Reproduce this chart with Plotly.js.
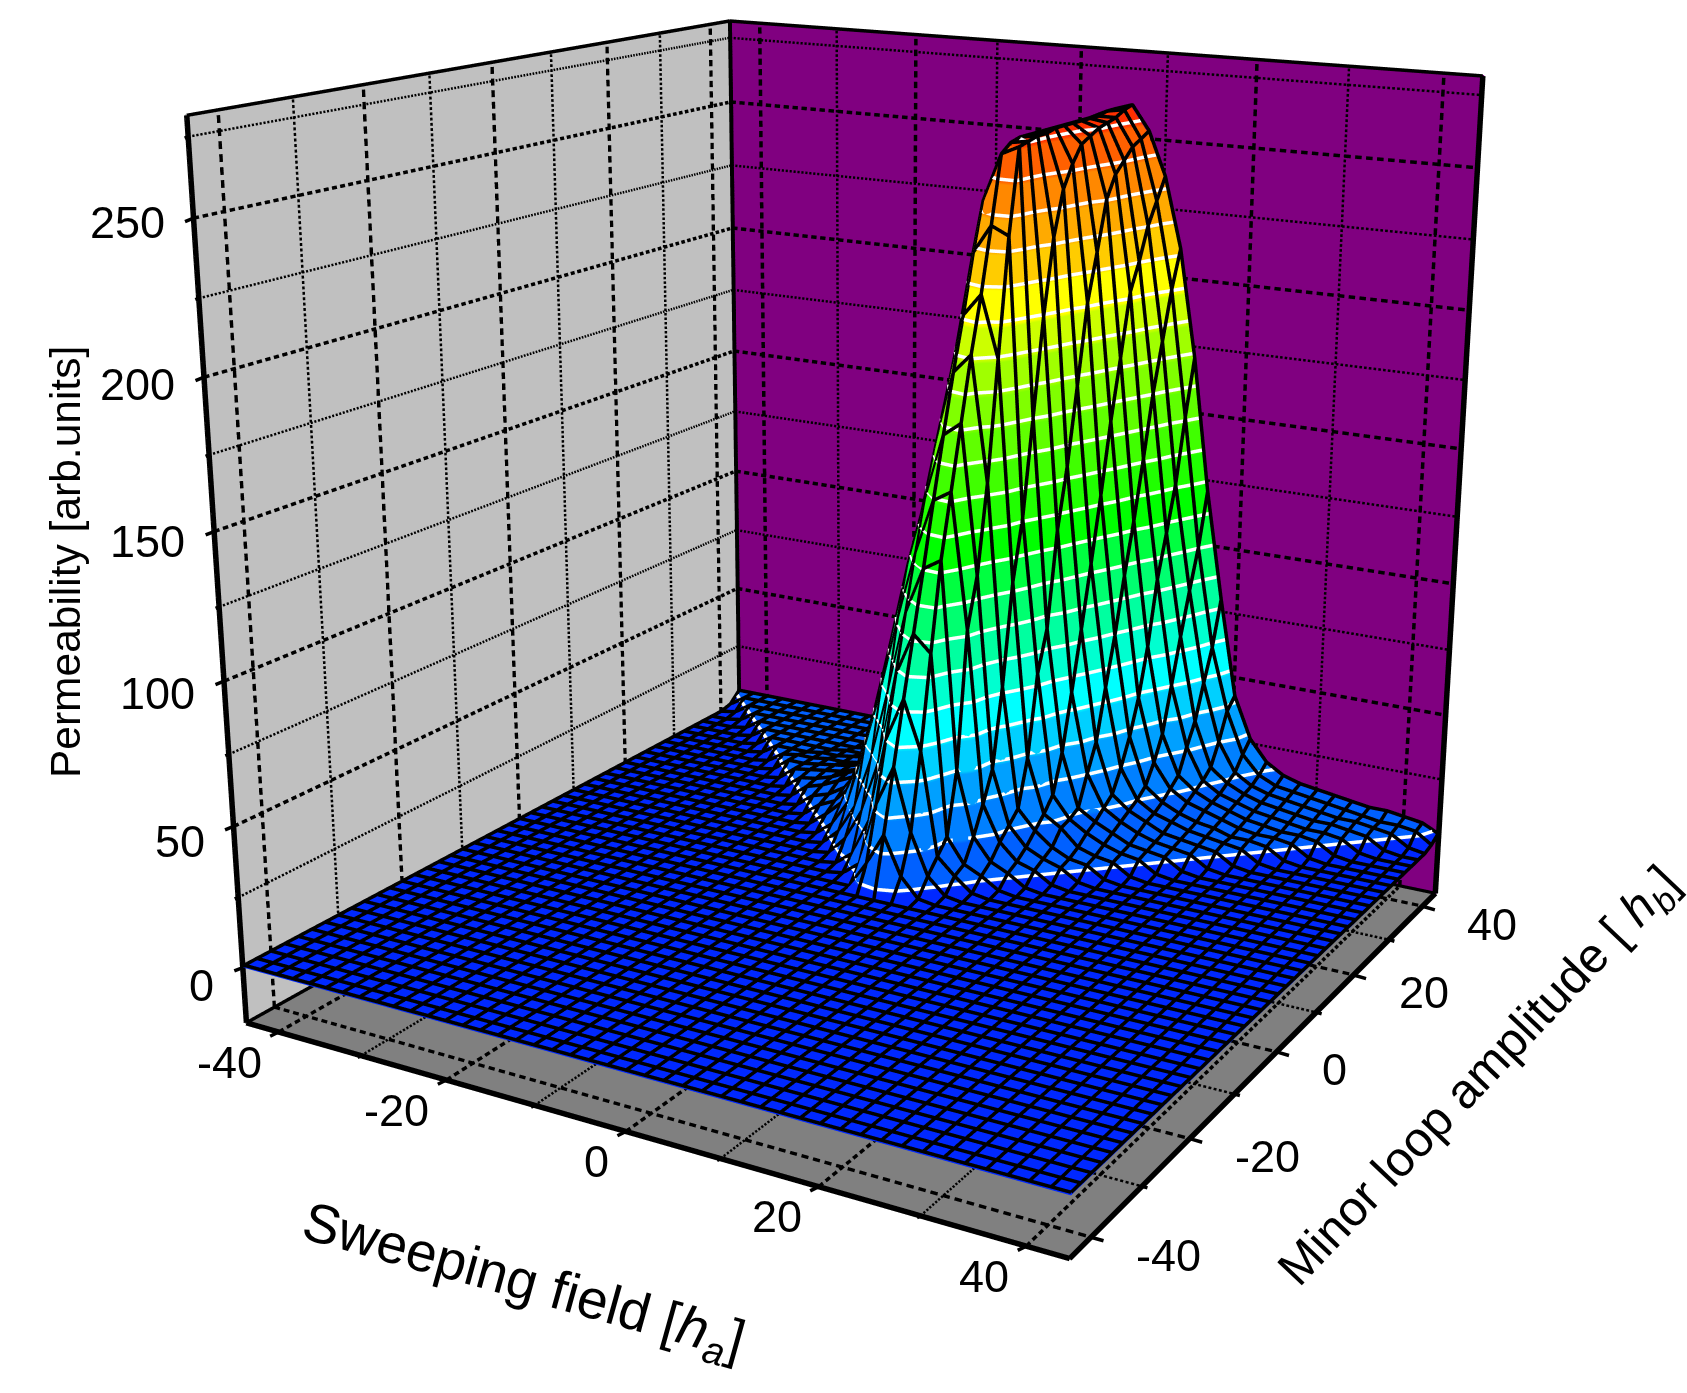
<!DOCTYPE html>
<html>
<head>
<meta charset="utf-8">
<script src="https://cdn.plot.ly/plotly-3.0.1.min.js"></script>
<style>
html, body { margin: 0; padding: 0; width: 1687px; height: 1393px; overflow: hidden; background: #fff; }
#plot { position: absolute; left: -247px; top: -680px; }
</style>
</head>
<body>
<div id="plot"></div>
<script>
// sweeping field axis, minor loop axis
var fieldValues = [-44,-42,-40,-38,-36,-34,-32,-30,-28,-26,-24,-22,-20,-18,-16,-14,-12,-10,-8,-6,-4,-2,0,2,4,6,8,10,12,14,16,18,20,22,24,26,28,30,32,34,36,38,40,42,44];
var loopValues = [-44,-42,-40,-38,-36,-34,-32,-30,-28,-26,-24,-22,-20,-18,-16,-14,-12,-10,-8,-6,-4,-2,0,2,4,6,8,10,12,14,16,18,20,22,24,26,28,30,32,34,36,38,40,42,44];

// permeability, one list per minor loop amplitude
var zFlat = [0,0,0,0,0,0,0,0,0,0,0,0,0,0,0,0,0,0,0,0,0,0, 0, 0,0,0,0,0,0,0,0,0,0,0,0,0,0,0,0,0,0,0,0,0,0];
var z02 = [0,0,0,0,0,0,0,0,0,0,0,0,0,0,0,0,0,0,0,0,0,10, 22, 8,1,0,0,0,0,0,0,0,0,0,0,0,0,0,0,0,0,0,0,0,0];
var z04 = [0,0,0,0,0,0,0,0,0,0,0,0,0,0,0,0,0,0,0,1,6,30, 45, 22,7,1,0,0,0,0,0,0,0,0,0,0,0,0,0,0,0,0,0,0,0];
var z06 = [0,0,0,0,0,0,0,0,0,0,0,0,0,0,0,0,0,0,1,6,20,52, 68, 50,12,6,1,0,0,0,0,0,0,0,0,0,0,0,0,0,0,0,0,0,0];
var z08 = [0,0,0,0,0,0,0,0,0,0,0,0,0,0,0,0,0,1,8,20,40,74, 90, 84,17,8,5,1,0,0,0,0,0,0,0,0,0,0,0,0,0,0,0,0,0];
var z10 = [0,0,0,0,0,0,0,0,0,0,0,0,0,0,0,0,1,7,18,38,65,95, 112, 116,40,16,8,5,1,0,0,0,0,0,0,0,0,0,0,0,0,0,0,0,0];
var z12 = [0,0,0,0,0,0,0,0,0,0,0,0,0,0,0,1,6,16,38,62,90,115, 135, 139,90,26,13,7,5,1,0,0,0,0,0,0,0,0,0,0,0,0,0,0,0];
var z14 = [0,0,0,0,0,0,0,0,0,0,0,0,0,0,1,6,12,28,50,78,108,133, 157, 162,108,37,17,10,7,5,1,0,0,0,0,0,0,0,0,0,0,0,0,0,0];
var z16 = [0,0,0,0,0,0,0,0,0,0,0,0,0,1,6,9,16,32,56,85,118,150, 178, 185,140,66,21,14,9,6,5,1,0,0,0,0,0,0,0,0,0,0,0,0,0];
var z18 = [0,0,0,0,0,0,0,0,0,0,0,0,1,6,8,12,20,34,58,88,125,165, 197, 205,183,103,38,18,14,8,6,5,1,0,0,0,0,0,0,0,0,0,0,0,0];
var z20 = [0,0,0,0,0,0,0,0,0,0,0,1,6,8,11,14,20,34,58,90,130,180, 218, 228,225,125,68,23,15,11,8,6,5,1,0,0,0,0,0,0,0,0,0,0,0];
var z22 = [0,0,0,0,0,0,0,0,0,0,1,6,7,9,12,15,20,33,56,88,132,195, 235, 252,255,160,83,37,17,13,10,7,6,5,1,0,0,0,0,0,0,0,0,0,0];
var z24 = [0,0,0,0,0,0,0,0,0,1,6,7,8,9,11,14,18,30,52,85,130,200, 240, 255,256,195,118,58,28,16,12,9,7,6,5,1,0,0,0,0,0,0,0,0,0];
var z26 = [0,0,0,0,0,0,0,0,1,6,6,7,8,9,11,13,17,28,48,80,125,205, 242, 256,257,222,140,80,38,19,14,11,8,7,6,5,1,0,0,0,0,0,0,0,0];
var z28 = [0,0,0,0,0,0,0,1,5,6,6,7,7,8,10,12,15,26,44,75,120,208, 244, 256,257,238,168,103,57,27,16,12,10,8,7,6,5,1,0,0,0,0,0,0,0];
var z30 = [0,0,0,0,0,0,1,5,5,5,6,6,7,8,9,11,14,24,40,70,115,208, 245, 256,258,246,197,127,75,37,19,14,11,9,8,6,6,5,1,0,0,0,0,0,0];
var z32 = [0,0,0,0,0,1,5,5,5,5,5,6,6,7,8,10,13,22,36,66,110,206, 246, 256,258,252,214,153,96,50,26,17,13,11,9,7,6,6,5,1,0,0,0,0,0];
var z34 = [0,0,0,0,1,5,5,5,5,5,5,5,6,7,8,9,12,20,32,60,105,205, 246, 256,258,254,232,175,115,68,35,20,15,12,10,8,7,6,6,5,1,0,0,0,0];
var z36 = [0,0,0,1,5,5,5,5,5,5,5,5,6,6,7,9,11,18,28,55,100,203, 246, 256,258,256,240,198,137,92,52,29,17,13,11,9,8,7,6,6,5,1,0,0,0];
var z38 = [0,0,1,5,5,5,5,5,5,5,5,5,5,6,7,8,10,16,25,50,95,200, 246, 256,258,257,244,208,160,108,69,37,20,15,12,10,9,8,7,7,6,5,1,0,0];
var z40 = [0,1,5,5,5,5,5,5,5,5,5,5,5,6,6,8,9,15,22,46,90,198, 246, 256,258,258,248,220,178,125,85,50,28,17,13,11,10,9,8,7,7,6,5,1,0];
var z42 = [1,5,5,5,5,5,5,5,5,5,5,5,5,5,6,7,9,14,20,42,85,195, 246, 256,259,260,250,228,196,149,100,62,38,22,15,12,11,10,9,8,7,6,6,5,1];
var z44 = [5,5,5,5,5,5,5,5,5,5,5,5,5,5,6,7,8,12,18,38,80,192, 246, 256,259,261,252,236,210,170,120,79,42,26,18,14,12,11,10,9,8,8,7,6,3];

var zRows = [zFlat,zFlat,zFlat,zFlat,zFlat,zFlat,zFlat,zFlat,zFlat,zFlat,zFlat,zFlat,zFlat,zFlat,zFlat,zFlat,zFlat,zFlat,zFlat,zFlat,zFlat,zFlat,zFlat,
    z02,z04,z06,z08,z10,z12,z14,z16,z18,z20,z22,z24,z26,z28,z30,z32,z34,z36,z38,z40,z42,z44];

var xTicks = [-40,-20,0,20,40];
var xMinor = [-30,-10,10,30];
var yTicks = [-40,-20,0,20,40];
var yMinor = [-30,-10,10,30];
var zTicks = [0,50,100,150,200,250];
var zMinor = [25,75,125,175,225,275];
var contourLevels = [4,16,28,40,52,64,76,88,100,112,124,136,148,160,172,184,196,208,220,232,244,256];

var bandColors = ['#0028ff','#0060ff','#0080ff','#00a0ff','#00d0ff','#00ffff','#00ffd0','#00ffa0','#00ff70','#00ff40','#00ff00','#20ff00',
    '#40ff00','#60ff00','#80ff00','#a0ff00','#ccff00','#ffff00','#ffcc00','#ffaa00','#ff8800','#ff6000','#ff3000'];

var xLo = -44, xHi = 44, yLo = -44, yHi = 44, zLo = -20, zHi = 281.5;
var fontName = '"Liberation Sans", Arial, sans-serif';

function bandScale(colors) {
    var out = [];
    colors.forEach(function (c, i) {
        out.push([i / colors.length, c]);
        out.push([(i + 1) / colors.length, c]);
    });
    return out;
}

// chop a straight line into dashes, gaps are nulls
function addDashed(tr, a, b, periods, duty) {
    for (var i = 0; i < periods; i++) {
        var t0 = i / periods, t1 = (i + duty) / periods;
        tr.x.push(a[0] + (b[0] - a[0]) * t0, a[0] + (b[0] - a[0]) * t1, null);
        tr.y.push(a[1] + (b[1] - a[1]) * t0, a[1] + (b[1] - a[1]) * t1, null);
        tr.z.push(a[2] + (b[2] - a[2]) * t0, a[2] + (b[2] - a[2]) * t1, null);
    }
}
function addLine(tr, a, b) {
    tr.x.push(a[0], b[0], null);
    tr.y.push(a[1], b[1], null);
    tr.z.push(a[2], b[2], null);
}
function lineTrace(width, color) {
    return {type: 'scatter3d', mode: 'lines', x: [], y: [], z: [], hoverinfo: 'skip', showlegend: false,
        line: {color: color || '#000', width: width}};
}

function gridLines(xs, ys, zs, periods, duty, tr) {
    xs.forEach(function (t) {
        addDashed(tr, [t, yLo, zLo], [t, yHi, zLo], periods, duty);
        addDashed(tr, [t, yHi, zLo], [t, yHi, zHi], periods, duty);
    });
    ys.forEach(function (t) {
        addDashed(tr, [xLo, t, zLo], [xHi, t, zLo], periods, duty);
        addDashed(tr, [xLo, t, zLo], [xLo, t, zHi], periods, duty);
    });
    zs.forEach(function (t) {
        addDashed(tr, [xLo, yLo, t], [xLo, yHi, t], periods, duty);
        addDashed(tr, [xLo, yHi, t], [xHi, yHi, t], periods, duty);
    });
}

var gridMajor = lineTrace(7);
var gridMinor = lineTrace(5);
gridLines(xTicks, yTicks, zTicks, 75, 0.6, gridMajor);
gridLines(xMinor, yMinor, zMinor, 170, 0.55, gridMinor);

// box edges
var edgeThick = lineTrace(11);
addLine(edgeThick, [xLo, yLo, zLo], [xHi, yLo, zLo]);
addLine(edgeThick, [xHi, yLo, zLo], [xHi, yHi, zLo]);
addLine(edgeThick, [xLo, yLo, zLo], [xLo, yLo, zHi]);
addLine(edgeThick, [xLo, yHi, zLo], [xLo, yHi, zHi]);
addLine(edgeThick, [xHi, yHi, zLo], [xHi, yHi, zHi]);
var edgeThin = lineTrace(7);
addLine(edgeThin, [xLo, yLo, zHi], [xLo, yHi, zHi]);
addLine(edgeThin, [xLo, yHi, zHi], [xHi, yHi, zHi]);
addLine(edgeThin, [xLo, yLo, zLo], [xLo, yHi, zLo]);
addLine(edgeThin, [xLo, yHi, zLo], [xHi, yHi, zLo]);

// mesh wires are lifted a little towards the viewer so they stay on top of the surface
var wires = lineTrace(7);
var liftX = 0.2, liftY = -0.2, liftZ = 1;
zRows.forEach(function (row, j) {
    row.forEach(function (v, i) {
        wires.x.push(Math.min(fieldValues[i] + liftX, xHi)); wires.y.push(Math.max(loopValues[j] + liftY, yLo)); wires.z.push(v + liftZ);
    });
    wires.x.push(null); wires.y.push(null); wires.z.push(null);
});
fieldValues.forEach(function (xv, i) {
    zRows.forEach(function (row, j) {
        wires.x.push(Math.min(xv + liftX, xHi)); wires.y.push(Math.max(loopValues[j] + liftY, yLo)); wires.z.push(row[i] + liftZ);
    });
    wires.x.push(null); wires.y.push(null); wires.z.push(null);
});

// white level lines, walked cell by cell through the same grid
var isoLines = lineTrace(7, '#ffffff');
function crossing(level, a, b, xa, ya, xb, yb) {
    if ((a < level) === (b < level)) { return null; }
    var t = (level - a) / (b - a);
    return [xa + (xb - xa) * t + 0.1, ya + (yb - ya) * t - 0.1, level + 0.5];
}
contourLevels.forEach(function (level) {
    for (var j = 0; j < loopValues.length - 1; j++) {
        for (var i = 0; i < fieldValues.length - 1; i++) {
            var x0 = fieldValues[i], x1 = fieldValues[i + 1], y0 = loopValues[j], y1 = loopValues[j + 1];
            var a = zRows[j][i], b = zRows[j][i + 1], c = zRows[j + 1][i + 1], d = zRows[j + 1][i];
            var hits = [
                crossing(level, a, b, x0, y0, x1, y0),
                crossing(level, b, c, x1, y0, x1, y1),
                crossing(level, d, c, x0, y1, x1, y1),
                crossing(level, a, d, x0, y0, x0, y1)
            ].filter(Boolean);
            if (hits.length === 2) { addLine(isoLines, hits[0], hits[1]); }
            if (hits.length === 4) { addLine(isoLines, hits[0], hits[1]); addLine(isoLines, hits[2], hits[3]); }
        }
    }
});

var surface = {
    type: 'surface', x: fieldValues, y: loopValues, z: zRows,
    colorscale: bandScale(bandColors), cmin: -8, cmax: 268, showscale: false, hoverinfo: 'skip',
    lighting: {ambient: 1, diffuse: 0, specular: 0, fresnel: 0, roughness: 1},
    contours: {x: {highlight: false}, y: {highlight: false}, z: {highlight: false}}
};

function label(x, y, z, text, opts) {
    var a = {x: x, y: y, z: z, text: text, showarrow: false, font: {family: fontName, size: 45, color: '#000'}};
    for (var k in opts) { a[k] = opts[k]; }
    return a;
}
// outward tick marks, the scene clips gl lines at the axis range
function tickMark(x, y, z, ax, ay) {
    return {x: x, y: y, z: z, text: ' ', showarrow: true, arrowhead: 0, arrowwidth: 3.5, arrowcolor: '#000',
        standoff: 0, ax: ax, ay: ay, font: {size: 1}};
}

var notes = [];
xTicks.forEach(function (t) {
    notes.push(tickMark(t, yLo, zLo, -10, 5));
    notes.push(label(t, yLo, zLo, String(t), {xanchor: 'right', yanchor: 'middle', xshift: -15, yshift: -30}));
});
xMinor.forEach(function (t) { notes.push(tickMark(t, yLo, zLo, -5, 2.5)); });
yTicks.forEach(function (t) {
    notes.push(tickMark(xHi, t, zLo, 14, 4));
    notes.push(label(xHi, t, zLo, String(t), {xanchor: 'left', yanchor: 'middle', xshift: 43, yshift: -18}));
});
yMinor.forEach(function (t) { notes.push(tickMark(xHi, t, zLo, 7, 2)); });
zTicks.forEach(function (t) {
    notes.push(tickMark(xLo, yLo, t, -10, 4));
    notes.push(label(xLo, yLo, t, String(t), {xanchor: 'right', yanchor: 'middle', xshift: -27, yshift: -18 + 14 * t / 250}));
});
zMinor.forEach(function (t) { notes.push(tickMark(xLo, yLo, t, -5, 2)); });
notes.push(label(0, yLo, zLo, 'Sweeping field [<i>h<sub>a</sub></i>]', {xanchor: 'center', yanchor: 'middle', xshift: -103, yshift: -153, textangle: 15.5, font: {family: fontName, size: 55, color: '#000'}}));
notes.push(label(xHi, 0, zLo, 'Minor loop amplitude [ <i>h<sub>b</sub></i>]', {xanchor: 'center', yanchor: 'middle', xshift: 204, yshift: -26, textangle: -46.5, font: {family: fontName, size: 49, color: '#000'}}));
notes.push(label(xLo, yLo, 130, 'Permeability [arb.units]', {xanchor: 'center', yanchor: 'middle', xshift: -152, yshift: 30, textangle: -90, font: {family: fontName, size: 42.5, color: '#000'}}));

function plainAxis(lo, hi, wall) {
    return {
        range: [lo, hi], autorange: false, title: {text: ''},
        showbackground: true, backgroundcolor: wall,
        showgrid: false, zeroline: false, showline: false, showticklabels: false, ticks: '', showspikes: false
    };
}

var layout = {
    width: 2400, height: 2434,
    margin: {l: 0, r: 0, t: 0, b: 0},
    paper_bgcolor: '#ffffff',
    showlegend: false,
    scene: {
        domain: {x: [0, 1], y: [0, 1]},
        aspectmode: 'manual',
        aspectratio: {x: 1, y: 0.983, z: 0.985},
        xaxis: plainAxis(xLo - 0.1, xHi + 0.1, '#c0c0c0'),
        yaxis: plainAxis(yLo - 0.1, yHi + 0.1, '#800080'),
        zaxis: plainAxis(zLo - 0.3, zHi + 0.3, '#808080'),
        camera: {
            projection: {type: 'perspective'},
            up: {x: -0.1442, y: 0.246, z: 0.9584},
            center: {x: 0.076, y: 0.044, z: 0.007},
            eye: {x: 1.5664, y: -2.6693, z: 0.915}
        },
        hovermode: false,
        annotations: notes
    }
};

Plotly.newPlot('plot', [surface, gridMajor, gridMinor, edgeThick, edgeThin, isoLines, wires], layout, {displayModeBar: false});
</script>
</body>
</html>
